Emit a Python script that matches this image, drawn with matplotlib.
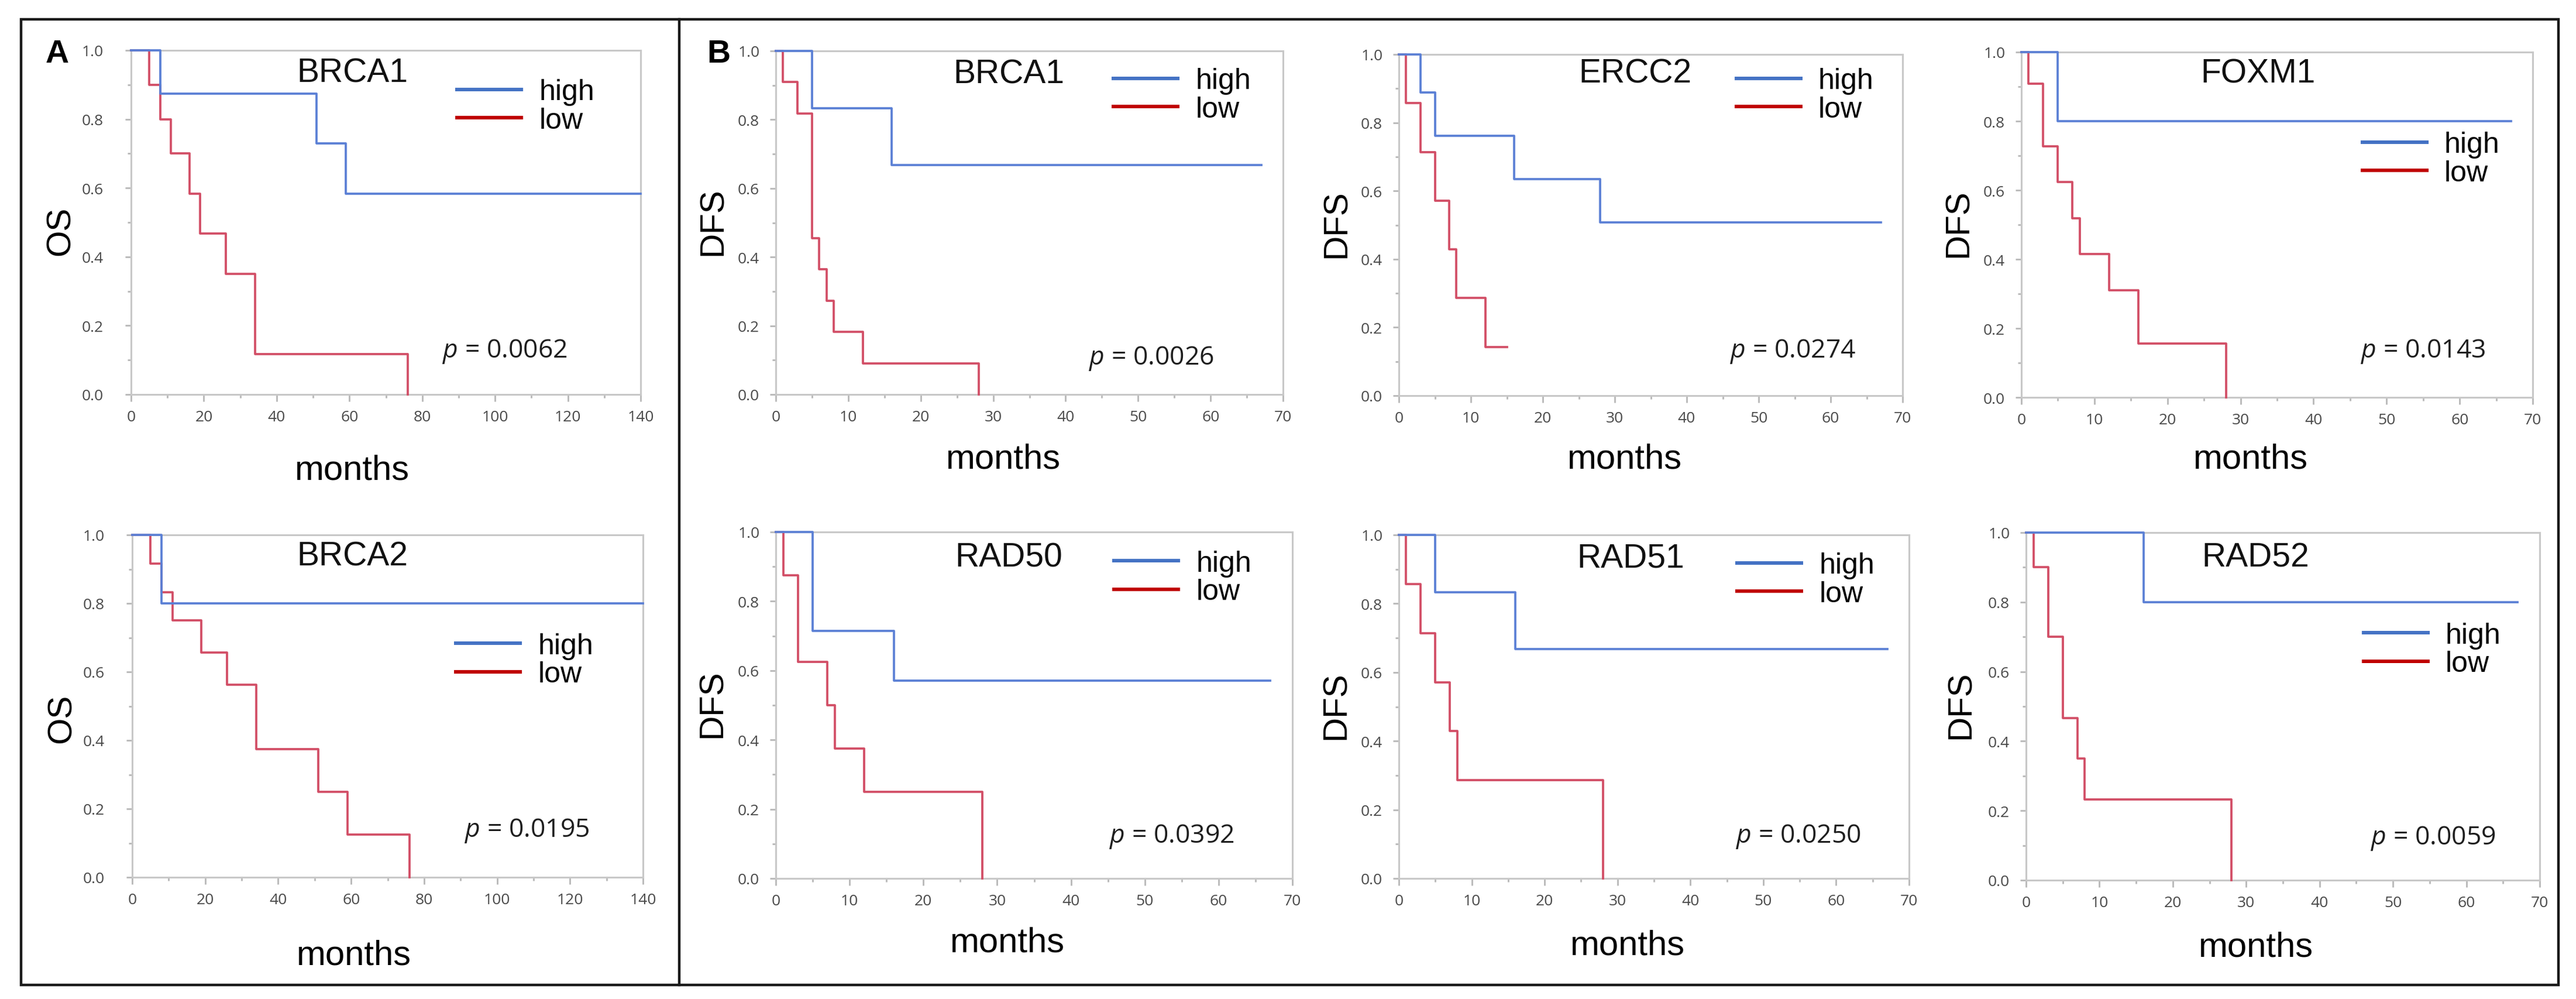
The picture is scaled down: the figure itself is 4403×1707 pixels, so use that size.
import matplotlib
matplotlib.use("Agg")
import matplotlib.pyplot as plt
from matplotlib.lines import Line2D
from matplotlib.patches import Rectangle
from matplotlib.ticker import MultipleLocator, FormatStrFormatter

plt.rcParams['mathtext.fontset'] = 'custom'
plt.rcParams['mathtext.it'] = 'Open Sans:italic'
plt.rcParams['mathtext.rm'] = 'Open Sans'

# ---- data (time in months, survival fraction) ----
# A: overall survival
a_brca1_high_t = [0, 8, 51, 59, 140]
a_brca1_high_s = [1.0, 0.875, 0.729, 0.583, 0.583]
a_brca1_low_t = [0, 5, 8, 11, 16, 19, 26, 34, 76]
a_brca1_low_s = [1.0, 0.9, 0.8, 0.7, 0.583, 0.467, 0.35, 0.117, 0.0]

a_brca2_high_t = [0, 8, 140]
a_brca2_high_s = [1.0, 0.8, 0.8]
a_brca2_low_t = [0, 5, 8, 11, 19, 26, 34, 51, 59, 76]
a_brca2_low_s = [1.0, 0.917, 0.833, 0.75, 0.656, 0.5625, 0.375, 0.25, 0.125, 0.0]

# B: disease free survival
b_brca1_high_t = [0, 5, 16, 67]
b_brca1_high_s = [1.0, 0.833, 0.667, 0.667]
b_brca1_low_t = [0, 1, 3, 5, 6, 7, 8, 12, 28]
b_brca1_low_s = [1.0, 0.909, 0.818, 0.455, 0.364, 0.273, 0.182, 0.091, 0.0]

b_ercc2_high_t = [0, 3, 5, 16, 28, 67]
b_ercc2_high_s = [1.0, 0.889, 0.762, 0.635, 0.508, 0.508]
b_ercc2_low_t = [0, 1, 3, 5, 7, 8, 12, 15]
b_ercc2_low_s = [1.0, 0.857, 0.714, 0.571, 0.429, 0.286, 0.143, 0.143]

b_foxm1_high_t = [0, 5, 67]
b_foxm1_high_s = [1.0, 0.8, 0.8]
b_foxm1_low_t = [0, 1, 3, 5, 7, 8, 12, 16, 28]
b_foxm1_low_s = [1.0, 0.909, 0.727, 0.623, 0.519, 0.415, 0.311, 0.156, 0.0]

b_rad50_high_t = [0, 5, 16, 67]
b_rad50_high_s = [1.0, 0.714, 0.571, 0.571]
b_rad50_low_t = [0, 1, 3, 7, 8, 12, 28]
b_rad50_low_s = [1.0, 0.875, 0.625, 0.5, 0.375, 0.25, 0.0]

b_rad51_high_t = [0, 5, 16, 67]
b_rad51_high_s = [1.0, 0.833, 0.667, 0.667]
b_rad51_low_t = [0, 1, 3, 5, 7, 8, 28]
b_rad51_low_s = [1.0, 0.857, 0.714, 0.571, 0.429, 0.286, 0.0]

b_rad52_high_t = [0, 16, 67]
b_rad52_high_s = [1.0, 0.8, 0.8]
b_rad52_low_t = [0, 1, 3, 5, 7, 8, 28]
b_rad52_low_s = [1.0, 0.9, 0.7, 0.467, 0.35, 0.233, 0.0]

genes = ["BRCA1", "BRCA2", "BRCA1", "ERCC2", "FOXM1", "RAD50", "RAD51", "RAD52"]
p_values = ["0.0062", "0.0195", "0.0026", "0.0274", "0.0143", "0.0392", "0.0250", "0.0059"]
y_labels = ["OS", "OS", "DFS", "DFS", "DFS", "DFS", "DFS", "DFS"]

W, H = 4403, 1708
fig = plt.figure(figsize=(W / 100, H / 100), dpi=100)

def px_rect(l, r, t, b):
    return [l / W, 1 - b / H, (r - l) / W, (b - t) / H]

# layout per panel: pixel box, xmax, major step, title pos, legend pos, p pos, xlabel y, ylabel pos
panels = [
    dict(box=(224, 1095, 87, 675), xmax=140, step=20, title=(0.434, 0.934), leg=(0.640, 0.838),
         p=(0.611, 0.126), xl=-0.172, yl=(-0.107, 0.476), ypad=27,
         hi=(a_brca1_high_t, a_brca1_high_s), lo=(a_brca1_low_t, a_brca1_low_s)),
    dict(box=(226, 1099, 915, 1500), xmax=140, step=20, title=(0.431, 0.937), leg=(0.634, 0.634),
         p=(0.651, 0.138), xl=-0.180, yl=(-0.107, 0.465), ypad=27,
         hi=(a_brca2_high_t, a_brca2_high_s), lo=(a_brca2_low_t, a_brca2_low_s)),
    dict(box=(1326, 2193, 88, 675), xmax=70, step=10, title=(0.460, 0.933), leg=(0.666, 0.871),
         p=(0.617, 0.107), xl=-0.140, yl=(-0.092, 0.505), ypad=13,
         hi=(b_brca1_high_t, b_brca1_high_s), lo=(b_brca1_low_t, b_brca1_low_s)),
    dict(box=(2391, 3252, 94, 677), xmax=70, step=10, title=(0.469, 0.944), leg=(0.670, 0.881),
         p=(0.657, 0.132), xl=-0.138, yl=(-0.092, 0.505), ypad=13,
         hi=(b_ercc2_high_t, b_ercc2_high_s), lo=(b_ercc2_low_t, b_ercc2_low_s)),
    dict(box=(3455, 4329, 90, 680), xmax=70, step=10, title=(0.463, 0.938), leg=(0.667, 0.691),
         p=(0.664, 0.135), xl=-0.131, yl=(-0.092, 0.505), ypad=13,
         hi=(b_foxm1_high_t, b_foxm1_high_s), lo=(b_foxm1_low_t, b_foxm1_low_s)),
    dict(box=(1326, 2209, 910, 1502), xmax=70, step=10, title=(0.451, 0.926), leg=(0.655, 0.868),
         p=(0.646, 0.122), xl=-0.137, yl=(-0.092, 0.505), ypad=13,
         hi=(b_rad50_high_t, b_rad50_high_s), lo=(b_rad50_low_t, b_rad50_low_s)),
    dict(box=(2391, 3263, 915, 1502), xmax=70, step=10, title=(0.454, 0.933), leg=(0.663, 0.870),
         p=(0.660, 0.123), xl=-0.147, yl=(-0.092, 0.505), ypad=13,
         hi=(b_rad51_high_t, b_rad51_high_s), lo=(b_rad51_low_t, b_rad51_low_s)),
    dict(box=(3463, 4341, 911, 1505), xmax=70, step=10, title=(0.447, 0.928), leg=(0.657, 0.663),
         p=(0.671, 0.122), xl=-0.146, yl=(-0.096, 0.505), ypad=13,
         hi=(b_rad52_high_t, b_rad52_high_s), lo=(b_rad52_low_t, b_rad52_low_s)),
]

curve_blue = '#5b80d5'
curve_red = '#d24e66'
leg_blue = '#4472c4'
leg_red = '#c00000'
spine_col = '#c8c8c8'
tick_col = '#b8b8b8'

for i, pan in enumerate(panels):
    ax = fig.add_axes(px_rect(*pan['box']))
    ax.step(pan['lo'][0], pan['lo'][1], where='post', color=curve_red, lw=2.7, clip_on=False, zorder=4)
    ax.step(pan['hi'][0], pan['hi'][1], where='post', color=curve_blue, lw=2.7, clip_on=False, zorder=5)
    ax.set_xlim(0, pan['xmax'])
    ax.set_ylim(0, 1)
    ax.xaxis.set_major_locator(MultipleLocator(pan['step']))
    ax.xaxis.set_minor_locator(MultipleLocator(pan['step'] / 2))
    ax.yaxis.set_major_locator(MultipleLocator(0.2))
    ax.yaxis.set_minor_locator(MultipleLocator(0.1))
    ax.yaxis.set_major_formatter(FormatStrFormatter('%.1f'))
    for s in ax.spines.values():
        s.set_color(spine_col)
        s.set_linewidth(2.2)
    ax.tick_params(axis='both', which='both', direction='out', color=tick_col, width=2,
                   labelcolor='#4a4a4a', labelsize=19)
    ax.tick_params(axis='y', which='major', length=7, pad=pan['ypad'])
    ax.tick_params(axis='y', which='minor', length=4)
    ax.tick_params(axis='x', which='major', length=8.6, pad=10)
    ax.tick_params(axis='x', which='minor', length=4.3)
    for lab in ax.get_xticklabels() + ax.get_yticklabels():
        lab.set_fontfamily('Open Sans')

    ax.set_xlabel('months', fontsize=43, family='Liberation Sans')
    ax.xaxis.set_label_coords(0.447 if pan['xmax'] == 70 else 0.433, pan['xl'])
    ax.set_ylabel(y_labels[i], fontsize=42, family='Liberation Sans')
    ax.yaxis.set_label_coords(*pan['yl'])

    ax.text(pan['title'][0], pan['title'][1], genes[i], transform=ax.transAxes, ha='center', va='center',
            fontsize=41, family='Liberation Sans', color='#111111')
    ax.text(pan['p'][0], pan['p'][1], '$p$ = ' + p_values[i], transform=ax.transAxes, ha='left', va='center',
            fontsize=32, family='Open Sans', color='#1e1e1e')

    handles = [Line2D([], [], color=leg_blue, lw=4.3), Line2D([], [], color=leg_red, lw=4.3)]
    ax.legend(handles, ['high', 'low'], loc='center left', bbox_to_anchor=pan['leg'], frameon=False,
              prop={'family': 'Liberation Sans', 'size': 36}, handlelength=2.2, handletextpad=0.6,
              labelspacing=0.05, borderpad=0, borderaxespad=0)

# panel letters
fig.text(98 / W, 1 - 93 / H, 'A', fontsize=40, fontweight='bold', family='Liberation Sans', ha='center', va='center')
fig.text(1228 / W, 1 - 93 / H, 'B', fontsize=40, fontweight='bold', family='Liberation Sans', ha='center', va='center')

# outer frame and divider
fig.add_artist(Rectangle((36 / W, 24 / H), (4373 - 36) / W, (1684 - 34) / H, transform=fig.transFigure,
                         fill=False, edgecolor='#1a1a1a', lw=3.2))
fig.add_artist(Line2D([1161 / W, 1161 / W], [24 / H, 1 - 34 / H], transform=fig.transFigure,
                      color='#1a1a1a', lw=3.2))

fig.savefig('out.png', dpi=100, facecolor='white')
